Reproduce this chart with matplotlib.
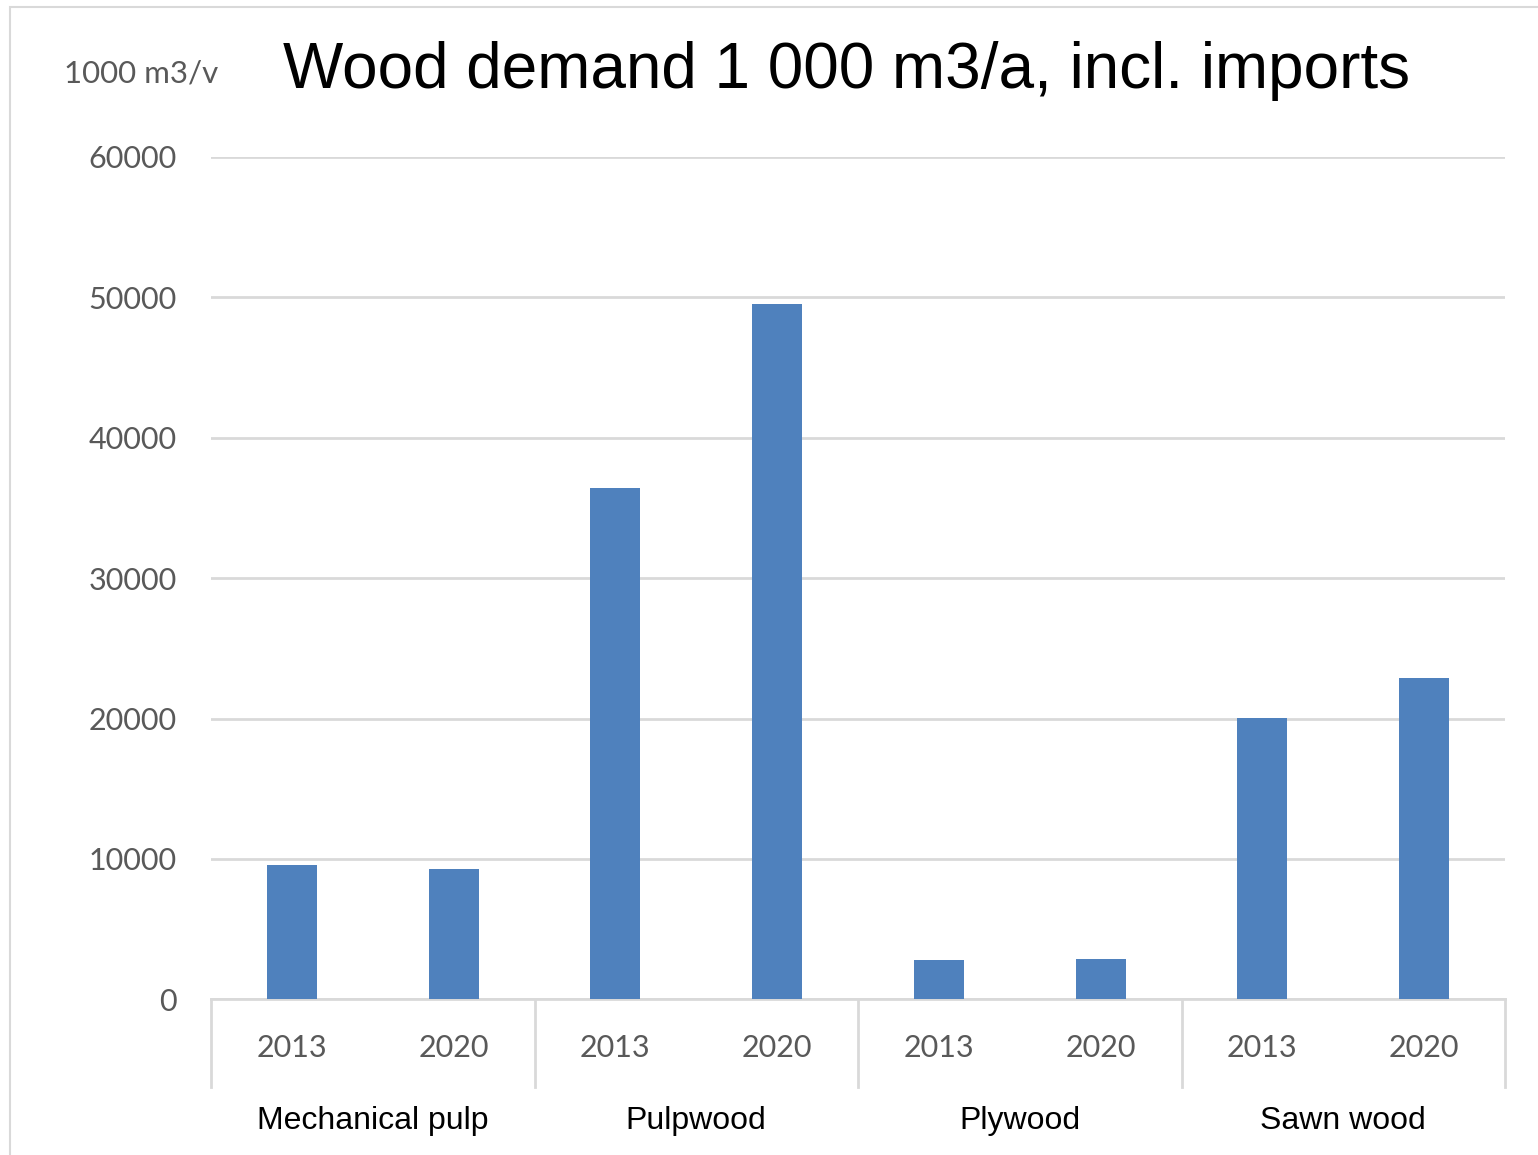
import matplotlib
matplotlib.use("Agg")
import matplotlib.pyplot as plt
from matplotlib.patches import Rectangle
import matplotlib.transforms as mtransforms

# Wood demand (1 000 m3 per year, including imports)
categories = ["Mechanical pulp", "Pulpwood", "Plywood", "Sawn wood"]
years = ["2013", "2020"]
demand_2013 = [9600, 36400, 2780, 20050]
demand_2020 = [9250, 49500, 2870, 22900]
y_ticks = [0, 10000, 20000, 30000, 40000, 50000, 60000]

W, H = 1538, 1155
DPI = 100
fig = plt.figure(figsize=(W / DPI, H / DPI), dpi=DPI)
fig.patch.set_facecolor("white")

gray_font = ["Lato", "DejaVu Sans"]
black_font = ["Liberation Sans", "DejaVu Sans"]
grid_col = "#d9d9d9"
bar_col = "#4f81bd"
text_gray = "#595959"

# outer chart frame
fig.add_artist(Rectangle((10 / W, -0.01), 1.02 - 10 / W, 1 - 7 / H + 0.01,
                         transform=fig.transFigure, fill=False,
                         edgecolor=grid_col, linewidth=1.5))

left, right = 211 / W, 1505 / W
bottom, top = 1 - 999.3 / H, 1 - 157 / H
ax = fig.add_axes([left, bottom, right - left, top - bottom])

# interleave the two years per category
values = []
labels = []
for a, b in zip(demand_2013, demand_2020):
    values += [a, b]
    labels += years
xs = list(range(len(values)))

ax.bar(xs, values, width=0.31, color=bar_col, zorder=3)

ax.set_xlim(-0.5, len(values) - 0.5)
ax.set_ylim(0, 60000)
ax.set_yticks(y_ticks)
ax.set_yticklabels([str(v) for v in y_ticks], fontfamily=gray_font,
                   fontsize=22, color=text_gray)
ax.tick_params(axis="y", length=0, pad=24.5)
ax.grid(axis="y", color=grid_col, linewidth=2, zorder=0)

ax.set_xticks(xs)
ax.set_xticklabels(labels, fontfamily=gray_font, fontsize=22, color=text_gray)
ax.tick_params(axis="x", length=0, pad=25)

for side in ["top", "right", "left"]:
    ax.spines[side].set_visible(False)
ax.spines["bottom"].set_color(grid_col)
ax.spines["bottom"].set_linewidth(2)

# category separators below the axis
trans = mtransforms.blended_transform_factory(ax.transData, ax.transAxes)
sep_len = 88 / (999.3 - 157)
for xb in [-0.5, 1.5, 3.5, 5.5, 7.5]:
    ax.plot([xb, xb], [0, -sep_len], transform=trans, color=grid_col,
            linewidth=2, clip_on=False, zorder=1)

# category names
cat_y = -(1121 - 999.3) / (999.3 - 157)
for i, name in enumerate(categories):
    ax.text(2 * i + 0.5, cat_y, name, transform=trans, ha="center",
            va="center", fontfamily=black_font, fontsize=23, color="black")

# unit label and title
fig.text(141.5 / W, 1 - 73 / H, "1000 m3/v", ha="center", va="center",
         fontfamily=gray_font, fontsize=22.5, color=text_gray)
fig.text(846.5 / W, 1 - 71 / H, "Wood demand 1 000 m3/a, incl. imports",
         ha="center", va="center", fontfamily=black_font, fontsize=46,
         color="black")

fig.savefig("out.png", dpi=DPI)
